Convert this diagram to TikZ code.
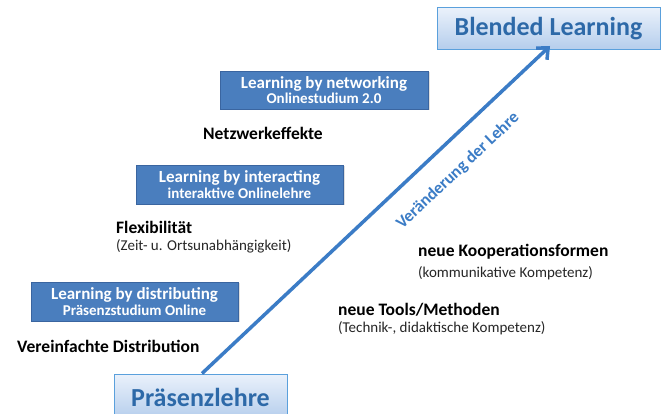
\documentclass[tikz,border=0pt]{standalone}
\usepackage{fontspec}
\setmainfont{Carlito}
\usetikzlibrary{arrows.meta,shadows}
\definecolor{darkbox}{HTML}{4A7EBE}
\definecolor{darkborder}{HTML}{3A65A0}
\definecolor{lighttop}{HTML}{EAF1FB}
\definecolor{lightbot}{HTML}{B4CDEC}
\definecolor{lightborder}{HTML}{5AA0DC}
\definecolor{titleblue}{HTML}{2D69A8}
\definecolor{arrowblue}{HTML}{3B7CC6}
\begin{document}
\begin{tikzpicture}[x=1pt,y=-1pt,
  darkstyle/.style={draw=darkborder, line width=0.8pt, fill=darkbox, text=white, align=center, inner sep=0pt,
     drop shadow={shadow xshift=1.5pt, shadow yshift=-1.5pt, opacity=0.25}},
  lightstyle/.style={draw=lightborder, line width=1pt, top color=lighttop, bottom color=lightbot, text=titleblue, inner sep=0pt,
     font=\fontsize{26}{28}\selectfont\bfseries},
  headtxt/.style={anchor=west, inner sep=0pt, font=\fontsize{17.5}{19}\selectfont\bfseries, text=black},
  subtxt/.style={anchor=west, inner sep=0pt, font=\fontsize{15}{17}\selectfont, text=black!85},
]
\useasboundingbox (0,0) rectangle (670,414);
\fill[white] (0,0) rectangle (670,414);

% top and bottom boxes
\node[lightstyle, minimum width=223pt, minimum height=42pt] (blended) at (548.5,29) {Blended Learning};
\node[lightstyle, minimum width=173pt, minimum height=46pt] (praes) at (200.5,397) {Präsenzlehre};

% arrow
\draw[arrowblue, line width=3.5pt, -{Straight Barb[length=9pt,width=16pt]}] (praes.north) ++(1.5,0) -- (550,46) coordinate (tip);
\node[text=arrowblue, font=\fontsize{17}{19}\selectfont\bfseries, rotate=43.3, inner sep=0pt] (lbl) at (458,171) {Veränderung der Lehre};

% dark boxes
\node[darkstyle, minimum width=208pt, minimum height=38pt] (net) at (324,90)
  {{\fontsize{17}{19}\selectfont\bfseries Learning by networking}\\[1pt]{\fontsize{15}{17}\selectfont\bfseries Onlinestudium 2.0}};
\node[darkstyle, minimum width=207pt, minimum height=39pt] (inter) at (239.5,184.5)
  {{\fontsize{17}{19}\selectfont\bfseries Learning by interacting}\\[1pt]{\fontsize{15}{17}\selectfont\bfseries interaktive Onlinelehre}};
\node[darkstyle, minimum width=207pt, minimum height=39pt] (dist) at (134.5,301.5)
  {{\fontsize{17}{19}\selectfont\bfseries Learning by distributing}\\[1pt]{\fontsize{15}{17}\selectfont\bfseries Präsenzstudium Online}};

% labels
\node[headtxt] (netz) at (203,133) {Netzwerkeffekte};
\node[headtxt] (flex) at (116,227) {Flexibilität};
\node[subtxt] (flexsub) at (116,246) {(Zeit- u. Ortsunabhängigkeit)};
\node[headtxt] (vere) at (17,346) {Vereinfachte Distribution};
\node[headtxt] (koop) at (418,252) {neue Kooperationsformen};
\node[subtxt] (koopsub) at (418,273) {(kommunikative Kompetenz)};
\node[headtxt] (tools) at (338,310) {neue Tools/Methoden};
\node[subtxt] (toolssub) at (338,328) {(Technik-, didaktische Kompetenz)};
\end{tikzpicture}
\end{document}
